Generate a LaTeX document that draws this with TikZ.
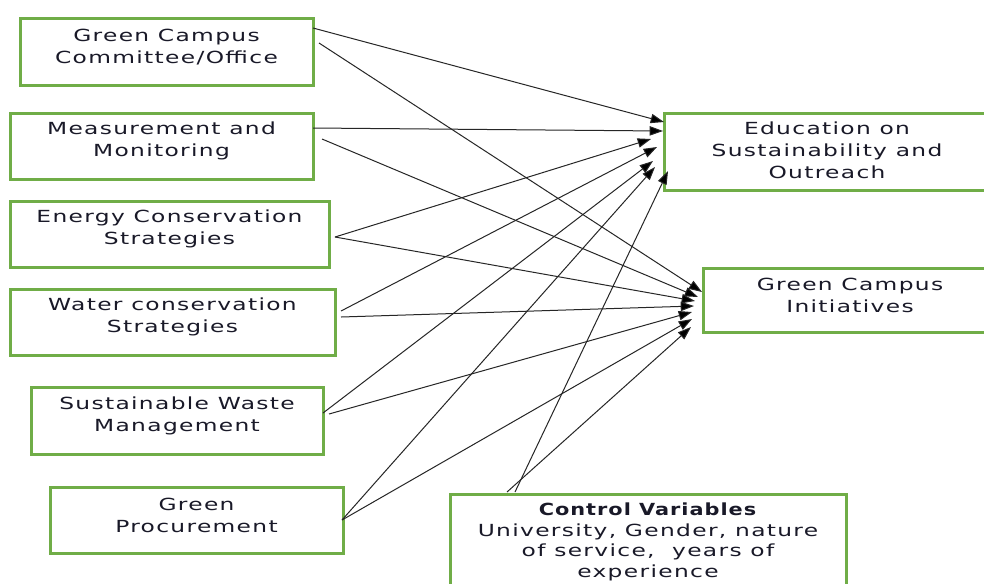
\documentclass[tikz,border=0pt]{standalone}
\usepackage{fontspec}
\setmainfont{DejaVu Sans}[FakeStretch=1.4,LetterSpace=8,
  BoldFeatures={FakeStretch=1.25,LetterSpace=6}]
\usetikzlibrary{arrows.meta}
\definecolor{boxgreen}{RGB}{112,173,71}
\definecolor{inkdark}{RGB}{25,25,40}

\begin{document}
\begin{tikzpicture}[x=0.75pt,y=-0.75pt,
  font=\fontsize{12.5}{16.5}\selectfont,
  var/.style 2 args={draw=boxgreen, line width=2.25pt, fill=white,
    inner sep=0pt, minimum width=#1*0.75pt, minimum height=#2*0.75pt},
  txt/.style={align=center, inner sep=0pt, text=inkdark},
  link/.style={draw=black!85, line width=0.75pt,
    -{Triangle[length=10pt,width=7pt,fill=black]}}]

\useasboundingbox (0,0) rectangle (984,583);
\clip (0,0) rectangle (984,583);
\fill[white] (0,0) rectangle (984,583);

% independent variables
\node[var={293}{67}] (b1) at (166.5,51.5) {};
\node[var={303}{66}] (b2) at (161.5,146) {};
\node[var={319}{66}] (b3) at (169.5,234) {};
\node[var={325}{66}] (b4) at (172.5,322) {};
\node[var={292}{67}] (b5) at (177,420.5) {};
\node[var={293}{66}] (b6) at (196.5,520) {};

\node[txt] (b1t) at ([yshift=3.6pt]b1.center) {Green Campus\\Committee/Office};
\node[txt] (b2t) at ([yshift=3.6pt]b2.center) {Measurement and\\Monitoring};
\node[txt] (b3t) at ([yshift=3.6pt]b3.center) {Energy Conservation\\Strategies};
\node[txt] (b4t) at ([yshift=3.6pt]b4.center) {Water conservation\\Strategies};
\node[txt] (b5t) at ([yshift=3.6pt]b5.center) {Sustainable Waste\\Management};
\node[txt] (b6t) at ([yshift=3.6pt]b6.center) {Green\\Procurement};

% dependent variables
\node[var={326}{77}] (edu) at (827,151.5) {};
\node[var={294}{64}] (gci) at (850,300) {};
\node[txt] (edut) at ([yshift=0.8pt]edu.center) {Education on\\Sustainability and\\Outreach};
\node[txt] (gcit) at ([yshift=3.6pt]gci.center) {Green Campus\\Initiatives};

% control variables
\node[var={396}{94}] (ctrl) at (648,541) {};
\node[txt, font=\fontsize{12.5}{15.4}\selectfont] (ctrlt) at ([yshift=-0.6pt]ctrl.center)
  {\textbf{Control Variables}\\University, Gender, nature\\of service,\ \ years of\\experience};

% connector end points
\coordinate (s1a) at (313,28);  \coordinate (s1b) at (319,43);
\coordinate (s2a) at (313,128); \coordinate (s2b) at (322,139);
\coordinate (s3)  at (335,237);
\coordinate (s4a) at (341,311); \coordinate (s4b) at (341,317);
\coordinate (s5a) at (323,413); \coordinate (s5b) at (329,414);
\coordinate (s6)  at (342,520);
\coordinate (sc1) at (515,492); \coordinate (sc2) at (507,492);

\coordinate (e1) at (664,122); \coordinate (e2) at (663,131);
\coordinate (e3) at (651,139); \coordinate (e4) at (657,147);
\coordinate (e5) at (653,161); \coordinate (e6) at (655,167);
\coordinate (e7) at (668,171);

\coordinate (g1) at (702,292); \coordinate (g2) at (698,297);
\coordinate (g3) at (695,301); \coordinate (g4) at (694,306);
\coordinate (g5) at (692,312); \coordinate (g6) at (692,319);
\coordinate (g7) at (691,327);

% paths to Education on Sustainability and Outreach
\draw[link] (s1a) -- (e1);
\draw[link] (s2a) -- (e2);
\draw[link] (s3)  -- (e3);
\draw[link] (s4a) -- (e4);
\draw[link] (s5a) -- (e5);
\draw[link] (s6)  -- (e6);
\draw[link] (sc1) -- (e7);

% paths to Green Campus Initiatives
\draw[link] (s1b) -- (g1);
\draw[link] (s2b) -- (g2);
\draw[link] (s3)  -- (g3);
\draw[link] (s4b) -- (g4);
\draw[link] (s5b) -- (g5);
\draw[link] (s6)  -- (g6);
\draw[link] (sc2) -- (g7);
\end{tikzpicture}
\end{document}
